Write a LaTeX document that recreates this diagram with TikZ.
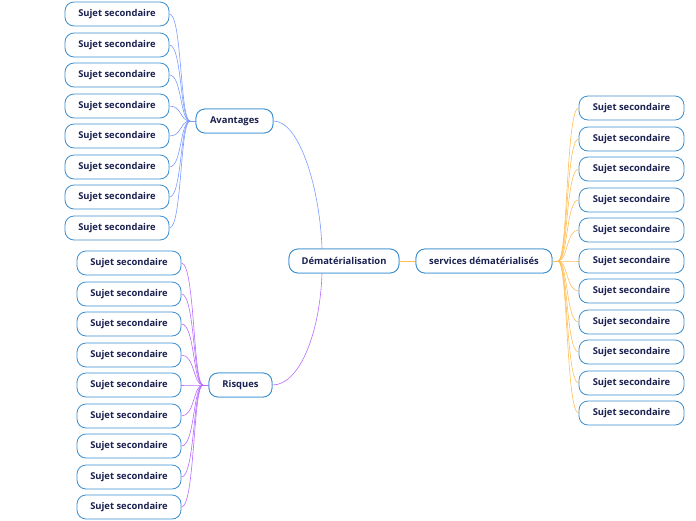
\documentclass[tikz,border=0pt]{standalone}
\usepackage{fontspec}
\setmainfont{Open Sans}
\begin{document}
\begin{tikzpicture}[x=1pt,y=-1pt,
  topic/.style={draw=nodeblue, line width=0.8pt, rounded corners=9pt, fill=white, minimum height=24pt, inner xsep=0pt, font=\fontsize{9.4}{11}\selectfont\bfseries, text=navy, anchor=center},
  sub/.style={topic, minimum width=104pt},
  bl/.style={draw=linkblue, line width=0.6pt},
  pl/.style={draw=linkpurple, line width=0.6pt},
  ol/.style={draw=linkorange, line width=0.6pt}]
\definecolor{nodeblue}{HTML}{3A8FD0}
\definecolor{navy}{HTML}{1B2150}
\definecolor{linkblue}{HTML}{7A9BFF}
\definecolor{linkpurple}{HTML}{B86BFF}
\definecolor{linkorange}{HTML}{FFBE55}
\useasboundingbox (0,0) rectangle (696,520);

\node[topic, minimum width=110pt] (dem) at (344,261) {Dématérialisation};
\node[topic, minimum width=136pt] (srv) at (484,261) {services dématérialisés};
\node[topic, minimum width=77pt] (av) at (234.5,121) {Avantages};
\node[topic, minimum width=63pt] (ri) at (240.5,385) {Risques};

\coordinate (avh) at (190,121);
\coordinate (rih) at (203,385);
\coordinate (srh) at (558,261);

\foreach \y [count=\i] in {14,45,75,106,136,167,197,228}{
  \node[sub] (a\i) at (117,\y) {Sujet secondaire};
  \draw[bl] (avh) .. controls (180,121) and (182,\y) .. (a\i.east);
}
\draw[bl] (av.west) -- (avh);
\foreach \y [count=\i] in {263,294,324,355,385,416,446,477,507}{
  \node[sub] (r\i) at (129,\y) {Sujet secondaire};
  \draw[pl] (rih) .. controls (193,385) and (195,\y) .. (r\i.east);
}
\draw[pl] (ri.west) -- (rih);
\foreach \y [count=\i] in {108,139,169,200,230,261,291,322,352,383,413}{
  \node[sub, minimum width=105pt] (s\i) at (631.5,\y) {Sujet secondaire};
  \draw[ol] (srh) .. controls (568,261) and (566,\y) .. (s\i.west);
}
\draw[ol] (srv.east) -- (srh);
\draw[ol] (dem.east) -- (srv.west);
\draw[bl] (av.east) .. controls (300,121) and (320,190) .. ([xshift=-22pt]dem.north);
\draw[pl] (ri.east) .. controls (300,385) and (320,332) .. ([xshift=-22pt]dem.south);

\node[topic, minimum width=110pt] at (dem) {Dématérialisation};
\node[topic, minimum width=136pt] at (srv) {services dématérialisés};
\node[topic, minimum width=77pt] at (av) {Avantages};
\node[topic, minimum width=63pt] at (ri) {Risques};
\end{tikzpicture}
\end{document}
